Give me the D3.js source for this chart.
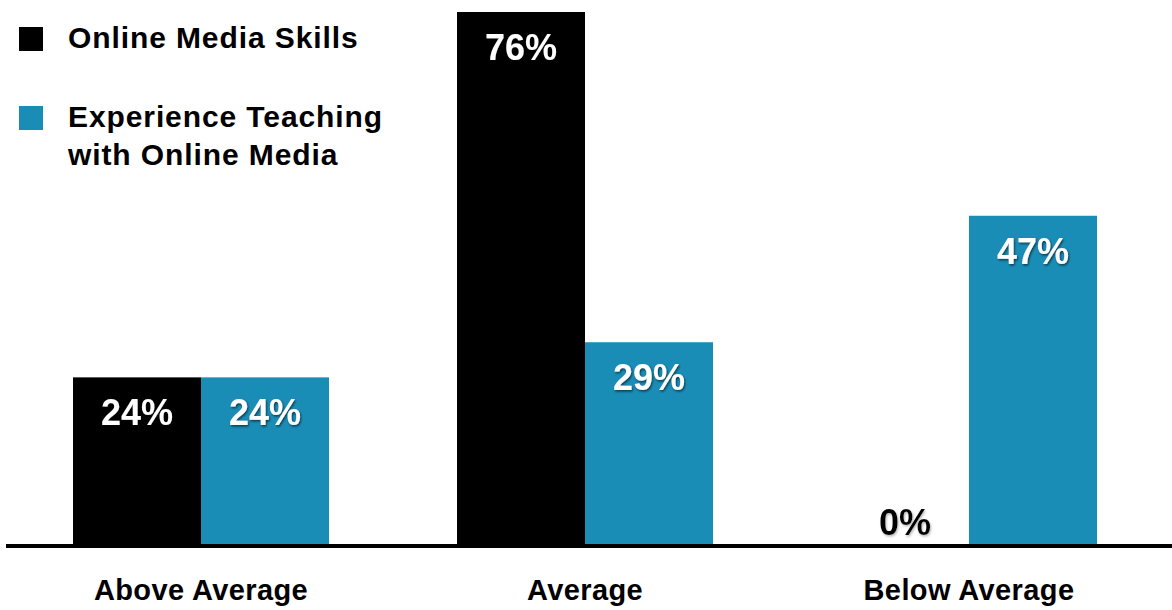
<!DOCTYPE html>
<html>
<head>
<meta charset="utf-8">
<script src="https://cdn.jsdelivr.net/npm/d3@7/dist/d3.min.js"></script>
<style>
  html, body { margin: 0; padding: 0; background: #fff; }
  svg { display: block; font-family: "Liberation Sans", Arial, Helvetica, sans-serif; font-weight: bold; }
</style>
</head>
<body>
<svg id="chart" width="1172" height="610"></svg>
<script>
// Ratings by category
const categories = ["Above Average", "Average", "Below Average"];
const seriesNames = ["Online Media Skills", "Experience Teaching with Online Media"];
const legendLines = [["Online Media Skills"], ["Experience Teaching", "with Online Media"]];
const onlineMediaSkills = [24, 76, 0];
const experienceTeaching = [24, 29, 47];
const seriesColors = ["#000000", "#1a8db7"];

const svg = d3.select("#chart");
const baseY = 546;

const x = d3.scaleBand().domain(categories).range([73, 1097]).paddingInner(1 / 3).paddingOuter(0);
const xInner = d3.scaleBand().domain(seriesNames).range([0, x.bandwidth()]).padding(0);
const y = d3.scaleLinear().domain([0, 76]).range([baseY, 12]);

const defs = svg.append("defs");
const shadow = defs.append("filter").attr("id", "shade").attr("x", "-20%").attr("y", "-20%").attr("width", "140%").attr("height", "140%");
shadow.append("feDropShadow").attr("dx", 1).attr("dy", 1.5).attr("stdDeviation", 1).attr("flood-color", "#000").attr("flood-opacity", 0.6);
const glow = defs.append("filter").attr("id", "glow").attr("x", "-20%").attr("y", "-20%").attr("width", "140%").attr("height", "140%");
glow.append("feDropShadow").attr("dx", 1).attr("dy", 1.5).attr("stdDeviation", 1.2).attr("flood-color", "#888").attr("flood-opacity", 0.6);

const rows = categories.map((c, i) => ({
  category: c,
  values: [
    { series: seriesNames[0], value: onlineMediaSkills[i], color: seriesColors[0] },
    { series: seriesNames[1], value: experienceTeaching[i], color: seriesColors[1] }
  ]
}));

const groups = svg.append("g").selectAll("g.group")
  .data(rows).join("g")
  .attr("class", "group")
  .attr("transform", d => `translate(${x(d.category)},0)`);

groups.selectAll("rect")
  .data(d => d.values).join("rect")
  .attr("x", d => xInner(d.series))
  .attr("width", xInner.bandwidth())
  .attr("y", d => y(d.value))
  .attr("height", d => y(0) - y(d.value))
  .attr("fill", d => d.color);

groups.selectAll("text.value")
  .data(d => d.values).join("text")
  .attr("class", "value")
  .attr("x", d => xInner(d.series) + xInner.bandwidth() / 2)
  .attr("y", d => d.value > 0 ? y(d.value) + 48 : y(0) - 11)
  .attr("text-anchor", "middle")
  .attr("font-size", 36)
  .attr("fill", d => d.value > 0 ? "#fff" : "#000")
  .attr("filter", d => d.value > 0 ? "url(#shade)" : "url(#glow)")
  .text(d => d.value + "%");

// Baseline
svg.append("line")
  .attr("x1", 6).attr("x2", 1172)
  .attr("y1", baseY).attr("y2", baseY)
  .attr("stroke", "#000").attr("stroke-width", 4);

// Category labels
const xAxis = d3.axisBottom(x).tickSize(0).tickPadding(0);
const axisG = svg.append("g").attr("transform", `translate(0,${baseY})`).call(xAxis);
axisG.select(".domain").remove();
axisG.selectAll(".tick text")
  .attr("y", 54)
  .attr("dy", 0)
  .attr("font-size", 29)
  .attr("letter-spacing", 0.4)
  .attr("font-family", "\"Liberation Sans\", Arial, sans-serif")
  .attr("font-weight", "bold")
  .attr("fill", "#000");

// Legend
const legendTop = [27, 106];
const legend = svg.append("g");
seriesNames.forEach((name, i) => {
  const g = legend.append("g").attr("transform", `translate(19,${legendTop[i]})`);
  g.append("rect").attr("width", 24).attr("height", 24).attr("fill", seriesColors[i]);
  const t = g.append("text").attr("x", 49).attr("y", 21).attr("font-size", 30)
    .attr("letter-spacing", 0.9).attr("fill", "#000");
  legendLines[i].forEach((line, j) => {
    t.append("tspan").attr("x", 49).attr("dy", j === 0 ? 0 : 38).text(line);
  });
});
</script>
</body>
</html>
